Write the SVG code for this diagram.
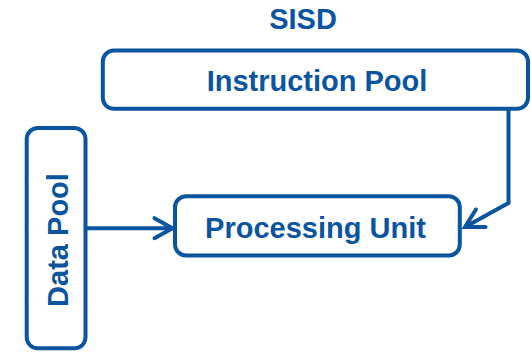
<svg xmlns="http://www.w3.org/2000/svg" width="531" height="354" viewBox="0 0 531 354">
  <style>
    .box { fill: #ffffff; stroke: #0B559F; stroke-width: 4; }
    .lbl { font-family: "Liberation Sans", Arial, sans-serif; font-weight: bold; font-size: 29px; fill: #0B559F; text-anchor: middle; }
    .conn { fill: none; stroke: #0B559F; stroke-width: 4; stroke-linejoin: miter; }
  </style>
  <defs>
    <marker id="arrow" markerUnits="userSpaceOnUse" viewBox="-24 -14 28 28" markerWidth="28" markerHeight="28" refX="0" refY="0" orient="auto">
      <path d="M-18,-10 L0,0 L-18,10" fill="none" stroke="#0B559F" stroke-width="4" stroke-linecap="round" stroke-linejoin="miter"/>
    </marker>
  </defs>
  <rect width="531" height="354" fill="#ffffff"/>
  <text id="title" class="lbl" x="303" y="29" font-size="28.5">SISD</text>
  <g id="instruction-pool">
    <rect class="box" x="102.8" y="50.5" width="425.2" height="58.3" rx="11" ry="11"/>
    <text class="lbl" x="317" y="90.5">Instruction Pool</text>
  </g>
  <g id="data-pool">
    <rect class="box" x="26.7" y="128" width="58.8" height="220.3" rx="11" ry="11"/>
    <text class="lbl" transform="translate(68.3,240) rotate(-90)" x="0" y="0">Data Pool</text>
  </g>
  <g id="processing-unit">
    <rect class="box" x="175" y="196.3" width="284.8" height="59.2" rx="11" ry="11"/>
    <text class="lbl" x="315.5" y="237.5">Processing Unit</text>
  </g>
  <g id="connectors">
    <polyline class="conn" points="85.5,228.2 172.5,228.2" marker-end="url(#arrow)"/>
    <polyline class="conn" points="508.5,108.8 508.5,203 465,227" marker-end="url(#arrow)"/>
  </g>
</svg>
